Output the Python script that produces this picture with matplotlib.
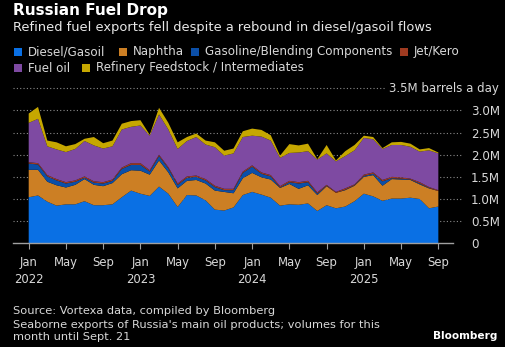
import matplotlib
matplotlib.use("Agg")
import matplotlib.pyplot as plt
from matplotlib.patches import Rectangle

# ---- data (million barrels a day), Jan 2022 .. Sep 2025 ----
months = list(range(45))
diesel = [1.04, 1.08, 0.94, 0.85, 0.88, 0.88, 0.95, 0.86, 0.86, 0.88, 1.04, 1.19,
          1.12, 1.07, 1.28, 1.12, 0.82, 1.09, 1.08, 0.97, 0.76, 0.74, 0.81, 1.09,
          1.16, 1.10, 1.03, 0.85, 0.88, 0.87, 0.90, 0.73, 0.86, 0.79, 0.83, 0.95,
          1.12, 1.06, 0.96, 1.01, 1.01, 1.03, 1.00, 0.79, 0.83]
naphtha = [0.62, 0.58, 0.45, 0.46, 0.38, 0.44, 0.50, 0.46, 0.43, 0.48, 0.52, 0.46,
           0.52, 0.48, 0.59, 0.48, 0.42, 0.32, 0.35, 0.38, 0.43, 0.42, 0.32, 0.38,
           0.43, 0.39, 0.41, 0.40, 0.46, 0.36, 0.41, 0.36, 0.43, 0.35, 0.37, 0.35,
           0.38, 0.48, 0.34, 0.44, 0.43, 0.40, 0.33, 0.45, 0.35]
gasoline = [0.14, 0.12, 0.12, 0.11, 0.09, 0.07, 0.03, 0.05, 0.06, 0.05, 0.12, 0.12,
            0.13, 0.07, 0.10, 0.09, 0.08, 0.07, 0.07, 0.07, 0.08, 0.04, 0.07, 0.12,
            0.14, 0.08, 0.07, 0.01, 0.04, 0.12, 0.07, 0.03, 0.01, 0.00, 0.01, 0.01,
            0.02, 0.03, 0.10, 0.02, 0.02, 0.01, 0.02, 0.01, 0.00]
jet = [0.03, 0.03, 0.03, 0.03, 0.03, 0.03, 0.03, 0.03, 0.03, 0.03, 0.03, 0.04,
       0.04, 0.03, 0.03, 0.03, 0.03, 0.03, 0.03, 0.03, 0.03, 0.03, 0.03, 0.03,
       0.03, 0.03, 0.03, 0.03, 0.03, 0.03, 0.03, 0.03, 0.02, 0.02, 0.03, 0.02,
       0.03, 0.03, 0.03, 0.03, 0.03, 0.02, 0.03, 0.02, 0.02]
fuel_oil = [0.89, 1.00, 0.65, 0.67, 0.68, 0.71, 0.80, 0.81, 0.76, 0.75, 0.86, 0.82,
            0.85, 0.78, 0.91, 0.85, 0.78, 0.80, 0.87, 0.78, 0.87, 0.75, 0.80, 0.78,
            0.67, 0.81, 0.78, 0.64, 0.63, 0.67, 0.67, 0.74, 0.71, 0.69, 0.73, 0.77,
            0.83, 0.75, 0.70, 0.72, 0.73, 0.72, 0.69, 0.83, 0.83]
feedstock = [0.21, 0.27, 0.13, 0.16, 0.13, 0.11, 0.05, 0.19, 0.12, 0.13, 0.13, 0.13,
             0.12, 0.02, 0.15, 0.15, 0.15, 0.09, 0.08, 0.09, 0.11, 0.11, 0.11, 0.13,
             0.16, 0.15, 0.12, 0.05, 0.20, 0.16, 0.17, 0.01, 0.19, 0.02, 0.11, 0.12,
             0.05, 0.05, 0.02, 0.06, 0.07, 0.07, 0.05, 0.05, 0.02]

series_names = ["Diesel/Gasoil", "Naphtha", "Gasoline/Blending Components", "Jet/Kero",
                "Fuel oil", "Refinery Feedstock / Intermediates"]
colors = ["#0a70e4", "#cc7f24", "#0b4fa8", "#9e3a20", "#7e4aa2", "#c6a700"]

xtick_pos = list(range(0, 45, 4))
xtick_labels = ["Jan\n2022", "May", "Sep", "Jan\n2023", "May", "Sep",
                "Jan\n2024", "May", "Sep", "Jan\n2025", "May", "Sep"]
ytick_vals = [0, 0.5, 1.0, 1.5, 2.0, 2.5, 3.0]
ytick_labels = ["0", "0.5M", "1.0M", "1.5M", "2.0M", "2.5M", "3.0M"]

W, H = 506, 347
fig = plt.figure(figsize=(W / 100, H / 100), dpi=100, facecolor="black")

def fx(px):
    return px / W

def fy(py):
    return 1 - py / H

FONT = "DejaVu Sans"
grey = "#d8d8d8"
gridc = "#8a8a8a"

# axes placement (pixels)
ax_l, ax_r, ax_t, ax_b = 13, 455, 88.3, 243.3
ax = fig.add_axes([fx(ax_l), fy(ax_b), fx(ax_r - ax_l), (ax_b - ax_t) / H])
ax.set_facecolor("black")
ax.stackplot(months, diesel, naphtha, gasoline, jet, fuel_oil, feedstock,
             colors=colors, linewidth=0, zorder=3)
px_per_month = 9.31
x0 = 28.7
ax.set_xlim((ax_l - x0) / px_per_month, (ax_r - x0) / px_per_month)
ax.set_ylim(0, 3.5)
for s in ax.spines.values():
    s.set_visible(False)

# dotted gridlines extending past axes to the right
for v in ytick_vals[1:]:
    ax.axhline(v, xmin=0, xmax=(462 - ax_l) / (ax_r - ax_l), color=gridc,
               lw=0.8, ls=(0, (1, 2)), clip_on=False, zorder=1)
ax.axhline(3.5, xmin=0, xmax=(385 - ax_l) / (ax_r - ax_l), color=gridc,
           lw=0.8, ls=(0, (1, 2)), clip_on=False, zorder=1)
ax.axhline(0, xmin=0, xmax=(453 - ax_l) / (ax_r - ax_l), color="#a0a0a0",
           lw=1.0, zorder=4, clip_on=False)

ax.set_yticks(ytick_vals)
ax.set_yticklabels(ytick_labels)
ax.yaxis.tick_right()
ax.tick_params(axis="y", length=0, pad=(471 - ax_r) * 0.72, labelsize=8.6,
               labelcolor=grey)
for lab in ax.get_yticklabels():
    lab.set_fontfamily(FONT)
    lab.set_horizontalalignment("left")

ax.set_xticks(xtick_pos)
ax.set_xticklabels(xtick_labels)
ax.tick_params(axis="x", length=4, width=0.8, color="#a0a0a0", pad=5,
               labelsize=8.4, labelcolor=grey)
for lab in ax.get_xticklabels():
    lab.set_fontfamily(FONT)
    lab.set_linespacing(1.45)

fig.text(fx(499), fy(88.3), "3.5M barrels a day", fontsize=8.5, color=grey,
         family=FONT, ha="right", va="center")

# header
fig.text(fx(13), fy(10.5), "Russian Fuel Drop", fontsize=11, fontweight="bold",
         color="white", family=FONT, ha="left", va="center")
fig.text(fx(13), fy(27), "Refined fuel exports fell despite a rebound in diesel/gasoil flows",
         fontsize=9.4, color="#e8e8e8", family=FONT, ha="left", va="center")

# legend
leg_items = [
    (14, 52, 0), (119, 52, 1), (191, 52, 2), (400, 52, 3),
    (14, 68, 4), (82, 68, 5),
]
for (lx, ly, k) in leg_items:
    fig.patches.append(Rectangle((fx(lx), fy(ly + 4)), fx(8), 8 / H,
                                 transform=fig.transFigure, facecolor=colors[k],
                                 edgecolor="none"))
    fig.text(fx(lx + 14), fy(ly), series_names[k], fontsize=8.6, color=grey,
             family=FONT, ha="left", va="center")

# footer
fig.text(fx(13), fy(311), "Source: Vortexa data, compiled by Bloomberg",
         fontsize=8.2, color=grey, family=FONT, ha="left", va="center")
fig.text(fx(13), fy(324.5), "Seaborne exports of Russia's main oil products; volumes for this",
         fontsize=8.2, color=grey, family=FONT, ha="left", va="center")
fig.text(fx(13), fy(337.5), "month until Sept. 21",
         fontsize=8.2, color=grey, family=FONT, ha="left", va="center")
fig.text(fx(497), fy(336), "Bloomberg", fontsize=7.6, fontweight="bold",
         color="white", family=FONT, ha="right", va="center")

fig.savefig("out.png", dpi=100, facecolor="black")
